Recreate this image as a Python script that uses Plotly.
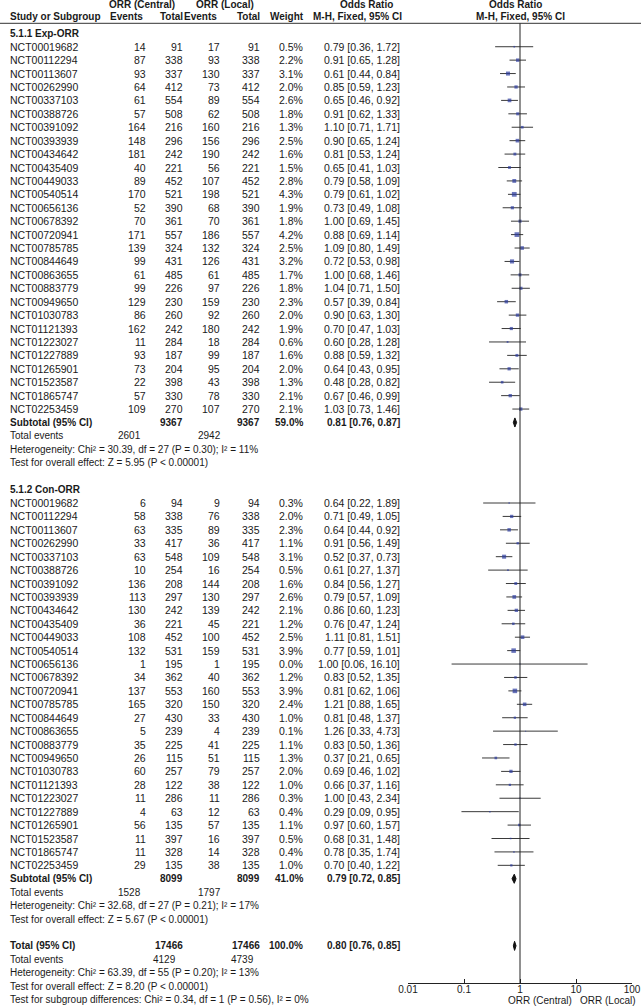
import math
import plotly.graph_objects as go

W, H = 641, 1007
PITCH = 13.42      # px per table row
TOP = 33.3         # px of row 0 ("5.1.1 Exp-ORR")
AXIS_K = 70.8      # row position of the forest x-axis line

studies = ["NCT00019682", "NCT00112294", "NCT00113607", "NCT00262990", "NCT00337103",
           "NCT00388726", "NCT00391092", "NCT00393939", "NCT00434642", "NCT00435409",
           "NCT00449033", "NCT00540514", "NCT00656136", "NCT00678392", "NCT00720941",
           "NCT00785785", "NCT00844649", "NCT00863655", "NCT00883779", "NCT00949650",
           "NCT01030783", "NCT01121393", "NCT01223027", "NCT01227889", "NCT01265901",
           "NCT01523587", "NCT01865747", "NCT02253459"]

# 5.1.1 Exp-ORR
exp_ev_c = [14, 87, 93, 64, 61, 57, 164, 148, 181, 40, 89, 170, 52, 70, 171, 139, 99, 61, 99, 129, 86, 162, 11, 93, 73, 22, 57, 109]
exp_n_c = [91, 338, 337, 412, 554, 508, 216, 296, 242, 221, 452, 521, 390, 361, 557, 324, 431, 485, 226, 230, 260, 242, 284, 187, 204, 398, 330, 270]
exp_ev_l = [17, 93, 130, 73, 89, 62, 160, 156, 190, 56, 107, 198, 68, 70, 186, 132, 126, 61, 97, 159, 92, 180, 18, 99, 95, 43, 78, 107]
exp_weight = [0.5, 2.2, 3.1, 2.0, 2.6, 1.8, 1.3, 2.5, 1.6, 1.5, 2.8, 4.3, 1.9, 1.8, 4.2, 2.5, 3.2, 1.7, 1.8, 2.3, 2.0, 1.9, 0.6, 1.6, 2.0, 1.3, 2.1, 2.1]
exp_or = [0.79, 0.91, 0.61, 0.85, 0.65, 0.91, 1.10, 0.90, 0.81, 0.65, 0.79, 0.79, 0.73, 1.00, 0.88, 1.09, 0.72, 1.00, 1.04, 0.57, 0.90, 0.70, 0.60, 0.88, 0.64, 0.48, 0.67, 1.03]
exp_lo = [0.36, 0.65, 0.44, 0.59, 0.46, 0.62, 0.71, 0.65, 0.53, 0.41, 0.58, 0.61, 0.49, 0.69, 0.69, 0.80, 0.53, 0.68, 0.71, 0.39, 0.63, 0.47, 0.28, 0.59, 0.43, 0.28, 0.46, 0.73]
exp_hi = [1.72, 1.28, 0.84, 1.23, 0.92, 1.33, 1.71, 1.24, 1.24, 1.03, 1.09, 1.02, 1.08, 1.45, 1.14, 1.49, 0.98, 1.46, 1.50, 0.84, 1.30, 1.03, 1.28, 1.32, 0.95, 0.82, 0.99, 1.46]

# 5.1.2 Con-ORR
con_ev_c = [6, 58, 63, 33, 63, 10, 136, 113, 130, 36, 108, 132, 1, 34, 137, 165, 27, 5, 35, 26, 60, 28, 11, 4, 56, 11, 11, 29]
con_n_c = [94, 338, 335, 417, 548, 254, 208, 297, 242, 221, 452, 531, 195, 362, 553, 320, 430, 239, 225, 115, 257, 122, 286, 63, 135, 397, 328, 135]
con_ev_l = [9, 76, 89, 36, 109, 16, 144, 130, 139, 45, 100, 159, 1, 40, 160, 150, 33, 4, 41, 51, 79, 38, 11, 12, 57, 16, 14, 38]
con_weight = [0.3, 2.0, 2.3, 1.1, 3.1, 0.5, 1.6, 2.6, 2.1, 1.2, 2.5, 3.9, 0.0, 1.2, 3.9, 2.4, 1.0, 0.1, 1.1, 1.3, 2.0, 1.0, 0.3, 0.4, 1.1, 0.5, 0.4, 1.0]
con_or = [0.64, 0.71, 0.64, 0.91, 0.52, 0.61, 0.84, 0.79, 0.86, 0.76, 1.11, 0.77, 1.00, 0.83, 0.81, 1.21, 0.81, 1.26, 0.83, 0.37, 0.69, 0.66, 1.00, 0.29, 0.97, 0.68, 0.78, 0.70]
con_lo = [0.22, 0.49, 0.44, 0.56, 0.37, 0.27, 0.56, 0.57, 0.60, 0.47, 0.81, 0.59, 0.06, 0.52, 0.62, 0.88, 0.48, 0.33, 0.50, 0.21, 0.46, 0.37, 0.43, 0.09, 0.60, 0.31, 0.35, 0.40]
con_hi = [1.89, 1.05, 0.92, 1.49, 0.73, 1.37, 1.27, 1.09, 1.23, 1.24, 1.51, 1.01, 16.10, 1.35, 1.06, 1.65, 1.37, 4.73, 1.36, 0.65, 1.02, 1.16, 2.34, 0.95, 1.57, 1.48, 1.74, 1.22]

summary_labels = ["Subtotal (95% CI)", "Subtotal (95% CI)", "Total (95% CI)"]
summary_n = [9367, 8099, 17466]
summary_weight = ["59.0%", "41.0%", "100.0%"]
summary_or = [0.81, 0.79, 0.80]
summary_lo = [0.76, 0.72, 0.76]
summary_hi = [0.87, 0.85, 0.85]
summary_events_c = [2601, 1528, 4129]
summary_events_l = [2942, 1797, 4739]
heterogeneity = ["Heterogeneity: Chi² = 30.39, df = 27 (P = 0.30); I² = 11%",
                 "Heterogeneity: Chi² = 32.68, df = 27 (P = 0.21); I² = 17%",
                 "Heterogeneity: Chi² = 63.39, df = 55 (P = 0.20); I² = 13%"]
overall = ["Test for overall effect: Z = 5.95 (P < 0.00001)",
           "Test for overall effect: Z = 5.67 (P < 0.00001)",
           "Test for overall effect: Z = 8.20 (P < 0.00001)"]
subgroup_test = "Test for subgroup differences: Chi² = 0.34, df = 1 (P = 0.56), I² = 0%"
group_names = ["5.1.1 Exp-ORR", "5.1.2 Con-ORR"]

tick_vals = [0.01, 0.1, 1, 10, 100]
tick_text = ["0.01", "0.1", "1", "10", "100"]

FONT = "Liberation Sans, Arial, sans-serif"
TXT = "#1a1a1a"
FS = 10.5      # table rows
FB = 10.0      # bold labels
FN = 10.0      # footnote lines

fig = go.Figure()
ann = []


def txt(px, k, s, anchor="right", bold=False, size=None):
    if bold:
        s = "<b>" + s + "</b>"
    if size is None:
        size = FB if bold else FS
    ann.append(dict(x=px / W, y=k, xref="paper", yref="y", text=s, showarrow=False,
                    xanchor=anchor, yanchor="middle", font=dict(family=FONT, size=size, color=TXT)))


# column right edges (px)
C_EVC, C_NC, C_EVL, C_NL, C_W, C_CI = 148, 185, 222, 262, 305, 402

# header
txt(142, -2.11, "ORR (Central)", "center", True)
txt(225, -2.11, "ORR (Local)", "center", True)
txt(366, -2.11, "Odds Ratio", "center", True)
txt(515, -2.11, "Odds Ratio", "center", True)
txt(8, -1.24, "Study or Subgroup", "left", True)
txt(C_EVC - 3, -1.24, "Events", "right", True)
txt(C_NC, -1.24, "Total", "right", True)
txt(C_EVL - 3, -1.24, "Events", "right", True)
txt(C_NL, -1.24, "Total", "right", True)
txt(C_W + 1, -1.24, "Weight", "right", True)
txt(357, -1.24, "M-H, Fixed, 95% CI", "center", True)
txt(520, -1.24, "M-H, Fixed, 95% CI", "center", True)

groups = [
    (exp_ev_c, exp_n_c, exp_ev_l, exp_weight, exp_or, exp_lo, exp_hi, 0),
    (con_ev_c, con_n_c, con_ev_l, con_weight, con_or, con_lo, con_hi, 34),
]

summary_rows = []
for g, (ev_c, n_c, ev_l, wt, orr, lo, hi, k0) in enumerate(groups):
    txt(8, k0, group_names[g], "left", True)
    ks = [k0 + 1 + i for i in range(len(studies))]
    for i, k in enumerate(ks):
        txt(8, k, studies[i], "left")
        txt(C_EVC, k, str(ev_c[i]))
        txt(C_NC, k, str(n_c[i]))
        txt(C_EVL, k, str(ev_l[i]))
        txt(C_NL, k, str(n_c[i]))
        txt(C_W, k, f"{wt[i]:.1f}%")
        txt(C_CI, k, f"{orr[i]:.2f} [{lo[i]:.2f}, {hi[i]:.2f}]")
    fig.add_trace(go.Scatter(
        x=orr, y=ks, mode="markers", xaxis="x2", yaxis="y2", showlegend=False,
        marker=dict(symbol="square", color="#2b3a9e", line=dict(width=0),
                    size=[max(1.0, 2.3 * math.sqrt(w)) for w in wt]),
        error_x=dict(type="data", symmetric=False,
                     array=[h - o for h, o in zip(hi, orr)],
                     arrayminus=[o - l for o, l in zip(orr, lo)],
                     color="#3a3a3a", thickness=1, width=0),
    ))
    summary_rows.append(k0 + 29)

summary_rows.append(68)
events_pos = [(C_EVC - 5, C_EVL + 1), (C_EVC - 5, C_EVL + 1), (C_EVC + 30, C_EVL + 34)]

for s, k in enumerate(summary_rows):
    txt(8, k, summary_labels[s], "left", True)
    txt(C_NC, k, str(summary_n[s]), "right", True)
    txt(C_NL, k, str(summary_n[s]), "right", True)
    txt(C_W, k, summary_weight[s], "right", True)
    txt(C_CI, k, f"{summary_or[s]:.2f} [{summary_lo[s]:.2f}, {summary_hi[s]:.2f}]", "right", True)
    txt(8, k + 1, "Total events", "left", size=FN)
    txt(events_pos[s][0], k + 1, str(summary_events_c[s]), size=FN)
    txt(events_pos[s][1], k + 1, str(summary_events_l[s]), size=FN)
    txt(8, k + 2, heterogeneity[s], "left", size=FN)
    txt(8, k + 3, overall[s], "left", size=FN)
    d = 0.34
    fig.add_trace(go.Scatter(
        x=[summary_lo[s], summary_or[s], summary_hi[s], summary_or[s], summary_lo[s]],
        y=[k, k - d, k, k + d, k], mode="lines", fill="toself", fillcolor="#111111",
        line=dict(color="#111111", width=1), xaxis="x2", yaxis="y2", showlegend=False,
    ))

txt(8, 72, subgroup_test, "left", size=FN)

k_top = -TOP / PITCH
k_bot_full = k_top + H / PITCH
axis_px = TOP + AXIS_K * PITCH
k_hline = (23.3 - TOP) / PITCH

# labels under the forest axis
ann.append(dict(x=1, xref="x2", y=72.05, yref="y", text="ORR (Central)", showarrow=False,
                xanchor="right", yanchor="middle", xshift=-2, font=dict(family=FONT, size=FN, color=TXT)))
ann.append(dict(x=1, xref="x2", y=72.05, yref="y", text="ORR (Local)", showarrow=False,
                xanchor="left", yanchor="middle", xshift=2, font=dict(family=FONT, size=FN, color=TXT)))

shapes = [
    dict(type="line", xref="paper", yref="paper", x0=0, x1=1, y0=1 - 23.3 / H, y1=1 - 23.3 / H,
         line=dict(color="#333333", width=1)),
    dict(type="line", xref="x2", yref="y2", x0=1, x1=1, y0=AXIS_K, y1=k_hline,
         line=dict(color="#222222", width=1)),
]

fig.update_layout(
    width=W, height=H, margin=dict(l=0, r=0, t=0, b=0, pad=0),
    paper_bgcolor="white", plot_bgcolor="rgba(0,0,0,0)",
    annotations=ann, shapes=shapes, showlegend=False,
    xaxis=dict(range=[0, W], domain=[0, 1], visible=False, fixedrange=True, automargin=False),
    yaxis=dict(range=[k_bot_full, k_top], domain=[0, 1], visible=False, fixedrange=True, automargin=False),
    xaxis2=dict(type="log", range=[-2, 2], domain=[408 / W, 632 / W], anchor="y2",
                showline=True, linecolor="#222222", linewidth=1, showgrid=False, zeroline=False,
                ticks="inside", ticklen=4, tickcolor="#222222", tickvals=tick_vals, ticktext=tick_text,
                ticklabelstandoff=-3,
                tickfont=dict(family=FONT, size=FN, color=TXT), fixedrange=True, automargin=False),
    yaxis2=dict(range=[AXIS_K, k_top], domain=[1 - axis_px / H, 1], anchor="x2",
                visible=False, fixedrange=True, automargin=False),
)

# the page body has a default 8px margin; drop it so the figure sits at the window's corner
fig.write_html("out.html", config={"displayModeBar": False},
               post_script="document.body.style.margin='0';")
